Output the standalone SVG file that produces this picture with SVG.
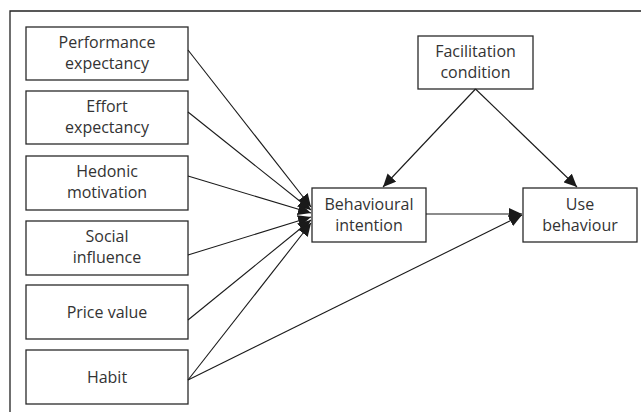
<svg xmlns="http://www.w3.org/2000/svg" width="641" height="412" viewBox="0 0 641 412">
<style>
.box{fill:#fff;stroke:#2a2a2a;stroke-width:1.3}
.t{font-family:"Open Sans","Noto Sans",sans-serif;font-size:16px;fill:#333;text-anchor:middle}
.c{stroke:#1a1a1a;stroke-width:1.1;fill:none;marker-end:url(#ah)}
.frame{stroke:#222;stroke-width:1.3;fill:none}
</style>
<defs>
<marker id="ah" markerUnits="userSpaceOnUse" markerWidth="14" markerHeight="12" viewBox="0 0 14 12" refX="13" refY="6" orient="auto">
<path d="M0,0 L13,6 L0,12 Z" fill="#1a1a1a"/>
</marker>
</defs>
<polyline class="frame" points="10,412 10,11 641,11"/>
<g id="performance"><rect class="box" x="26" y="27" width="162" height="53"/><text class="t" x="107" y="48">Performance</text><text class="t" x="107" y="69">expectancy</text></g>
<g id="effort"><rect class="box" x="26" y="91" width="162" height="53"/><text class="t" x="107" y="112">Effort</text><text class="t" x="107" y="133">expectancy</text></g>
<g id="hedonic"><rect class="box" x="26" y="156" width="162" height="54"/><text class="t" x="107" y="177">Hedonic</text><text class="t" x="107" y="198">motivation</text></g>
<g id="social"><rect class="box" x="26" y="221" width="162" height="54"/><text class="t" x="107" y="242">Social</text><text class="t" x="107" y="263">influence</text></g>
<g id="price"><rect class="box" x="26" y="285" width="162" height="54"/><text class="t" x="107" y="318">Price value</text></g>
<g id="habit"><rect class="box" x="26" y="350" width="162" height="54"/><text class="t" x="107" y="383">Habit</text></g>
<g id="facilitation"><rect class="box" x="418" y="36" width="115" height="53"/><text class="t" x="475.5" y="57">Facilitation</text><text class="t" x="475.5" y="78">condition</text></g>
<g id="intention"><rect class="box" x="312" y="188" width="114" height="54"/><text class="t" x="369" y="210">Behavioural</text><text class="t" x="369" y="231">intention</text></g>
<g id="use"><rect class="box" x="523" y="188" width="114" height="54"/><text class="t" x="580" y="210">Use</text><text class="t" x="580" y="231">behaviour</text></g>
<g id="connectors">
<line class="c" x1="188" y1="50" x2="311" y2="207"/>
<line class="c" x1="188" y1="112" x2="311" y2="210"/>
<line class="c" x1="188" y1="176" x2="311" y2="213"/>
<line class="c" x1="188" y1="255" x2="311" y2="217"/>
<line class="c" x1="188" y1="320" x2="311" y2="220"/>
<line class="c" x1="188" y1="380" x2="311" y2="223"/>
<line class="c" x1="188" y1="380" x2="522" y2="215"/>
<line class="c" x1="426" y1="214" x2="522" y2="214"/>
<line class="c" x1="475.5" y1="89" x2="383" y2="187"/>
<line class="c" x1="475.5" y1="89" x2="577" y2="187"/>
</g>
</svg>
